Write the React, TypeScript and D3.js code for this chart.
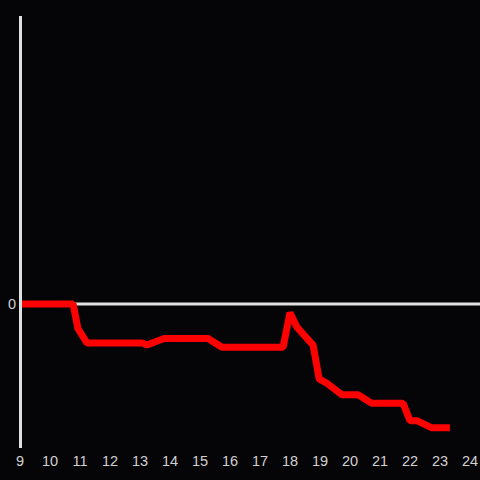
import React from "react";
import * as d3 from "d3";

const hours = [9, 10.77, 10.93, 11.23, 13.07, 13.23, 13.8, 15.27, 15.73, 17.77, 18.0, 18.23, 18.77, 18.97, 19.23, 19.73, 20.27, 20.73, 21.77, 22.0, 22.23, 22.73, 23.33];
const values = [0, 0, -17, -27, -27, -28.5, -24, -24, -30, -30, -6, -16, -28.5, -52, -55, -63, -63, -69, -69, -81, -81, -86, -86];
const xTicks = [9, 10, 11, 12, 13, 14, 15, 16, 17, 18, 19, 20, 21, 22, 23, 24];
const yTicks = [0];

const W = 480;
const H = 480;

export default function App() {
  const x = d3.scaleLinear().domain([9, 24]).range([20, 470]);
  const y = d3.scaleLinear().domain([-100, 200]).range([448, 16]);
  const pts = hours.map((h, i) => [h, values[i]] as [number, number]);
  const line = d3
    .line<[number, number]>()
    .x((d) => x(d[0]))
    .y((d) => y(d[1]));
  const axisColor = "#e0e0e0";
  const textColor = "#d2d2d2";
  return (
    <svg
      width={W}
      height={H}
      style={{ position: "fixed", left: 0, top: 0, display: "block" }}
      fontFamily="'Liberation Sans', Arial, sans-serif"
    >
      <rect x={0} y={0} width={W} height={H} fill="#050508" />
      <line x1={x(9)} x2={W} y1={y(0)} y2={y(0)} stroke={axisColor} strokeWidth={3} />
      <path d={line(pts) || ""} fill="none" stroke="#ff0000" strokeWidth={7} strokeLinejoin="bevel" strokeLinecap="butt" />
      <line x1={x(9) + 0.5} x2={x(9) + 0.5} y1={y(200)} y2={y(-100)} stroke={axisColor} strokeWidth={3} />
      {xTicks.map((t) => (
        <text key={t} x={x(t)} y={466} fill={textColor} fontSize={14.5} textAnchor="middle">
          {t}
        </text>
      ))}
      {yTicks.map((t) => (
        <text key={t} x={16} y={y(t) + 5} fill={textColor} fontSize={14.5} textAnchor="end">
          {t}
        </text>
      ))}
    </svg>
  );
}
